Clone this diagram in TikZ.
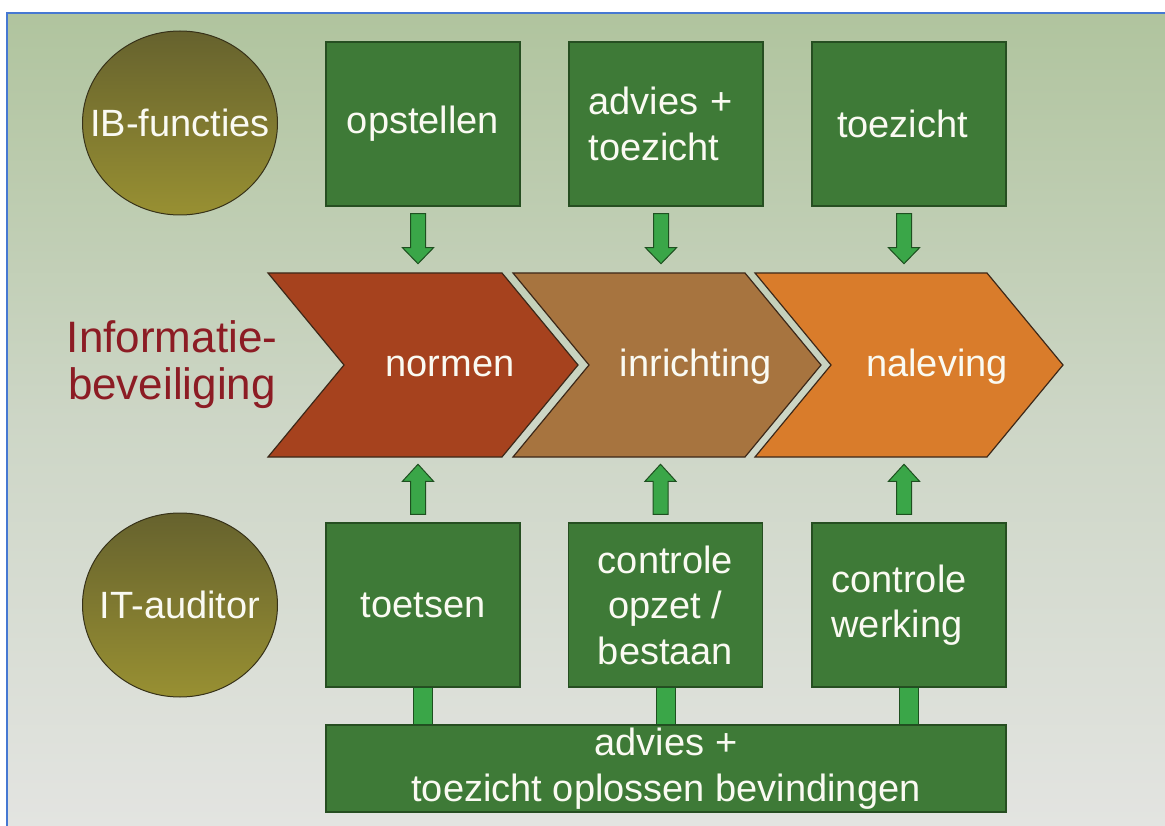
\documentclass[tikz,border=0pt]{standalone}
\usepackage{fontspec}
\setmainfont{Liberation Sans}
\usetikzlibrary{shapes.geometric,calc}
\definecolor{bgtop}{RGB}{176,196,158}
\definecolor{bgmid}{RGB}{205,214,198}
\definecolor{bgbot}{RGB}{227,228,225}
\definecolor{framecol}{RGB}{70,120,210}
\definecolor{boxgreen}{RGB}{62,122,55}
\definecolor{boxedge}{RGB}{38,78,33}
\definecolor{arrgreen}{RGB}{58,166,72}
\definecolor{arredge}{RGB}{30,80,32}
\definecolor{txtwhite}{RGB}{250,250,242}
\definecolor{disctop}{RGB}{102,98,46}
\definecolor{discbot}{RGB}{152,144,50}
\definecolor{discedge}{RGB}{55,50,25}
\definecolor{cnorm}{RGB}{166,66,30}
\definecolor{cinr}{RGB}{167,116,63}
\definecolor{cnal}{RGB}{217,124,43}
\definecolor{chevedge}{RGB}{60,40,25}
\definecolor{redtxt}{RGB}{140,28,36}
\newcommand\mybigfont{\fontsize{38}{45.5}\selectfont}
\newcommand\myredfont{\fontsize{44}{47}\selectfont}
\begin{document}
\begin{tikzpicture}[x=1pt,y=-1pt]
\tikzset{
  box/.style={rectangle, fill=boxgreen, draw=boxedge, line width=1.5pt,
    minimum width=194pt, minimum height=164pt, inner sep=0pt,
    text=txtwhite, font=\mybigfont, align=center},
  leftbox/.style={box, align=left, text width=155pt, inner xsep=19.5pt},
  barbox/.style={box, minimum width=680pt, minimum height=87pt},
  disc/.style={ellipse, minimum width=195pt, minimum height=184pt, inner sep=0pt,
    draw=discedge, line width=1pt, top color=disctop, bottom color=discbot},
  disclabel/.style={text=txtwhite, font=\mybigfont, inner sep=0pt},
  chev/.style={draw=chevedge, line width=1.2pt, line join=miter},
  chevtext/.style={text=txtwhite, font=\mybigfont, inner sep=0pt},
  arr/.style={fill=arrgreen, draw=arredge, line width=1pt, line join=miter},
  conn/.style={fill=arrgreen, draw=arredge, line width=0.8pt},
  frameline/.style={draw=framecol, line width=2pt},
  downarr/.pic={\draw[arr] (-7.5,0) -- (7.5,0) -- (7.5,34) -- (15.5,34) -- (0,50) -- (-15.5,34) -- (-7.5,34) -- cycle;},
  uparr/.pic={\draw[arr] (-7.5,0) -- (7.5,0) -- (7.5,-33) -- (15.5,-33) -- (0,-50) -- (-15.5,-33) -- (-7.5,-33) -- cycle;}
}
\useasboundingbox (0,0) rectangle (1165,826);
% background
\fill[white] (0,0) rectangle (1165,826);
\fill[top color=bgtop, bottom color=bgbot, middle color=bgmid] (7,13) rectangle (1165,826);
\draw[frameline] (1165,13) -- (7,13) -- (7,826);

% circles
\node[disc, label={[disclabel]center:IB-functies}] (ib) at (180,123) {};
\node[disc, label={[disclabel]center:IT-auditor}] (it) at (180,605) {};

% left label
\node[text=redtxt, font=\myredfont, align=center, inner sep=0pt] (infob) at (172,365) {Informatie-\\beveiliging};

% top boxes
\node[box] (t1) at (423,124) {opstellen};
\node[leftbox] (t2) at (666,124) {advies +\\toezicht};
\node[leftbox, text width=144pt, inner xsep=25pt] (t3) at (909,124) {toezicht};

% chevrons
\draw[chev, fill=cnorm] (268,273) -- (502,273) -- (578,365) -- (502,457) -- (268,457) -- (344,365) -- cycle;
\draw[chev, fill=cinr] (513,273) -- (745,273) -- (821,365) -- (745,457) -- (513,457) -- (589,365) -- cycle;
\draw[chev, fill=cnal] (755,273) -- (987,273) -- (1063,365) -- (987,457) -- (755,457) -- (831,365) -- cycle;
\node[chevtext, anchor=base] (normen) at (450,377) {normen};
\node[chevtext, anchor=base] (inrichting) at (696,377) {inrichting};
\node[chevtext, anchor=base] (naleving) at (937,377) {naleving};

% bottom boxes
\node[box] (b1) at (423,605) {toetsen};
\node[box] (b2) at (665.5,605) {controle\\opzet /\\bestaan};
\node[leftbox] (b3) at (909,605) {controle\\werking};
\node[barbox] (bar) at (666,768.5) {advies +\\toezicht oplossen bevindingen};

% arrows down
\pic at ($(t1.south)+(-5,7)$) {downarr};
\pic at ($(t2.south)+(-5,7)$) {downarr};
\pic at ($(t3.south)+(-5,7)$) {downarr};
% arrows up
\pic at ($(b1.north)+(-5,-8)$) {uparr};
\pic at ($(b2.north)+(-5,-8)$) {uparr};
\pic at ($(b3.north)+(-5,-8)$) {uparr};

% connectors to bottom bar
\draw[conn] ($(b1.south)+(-9.5,0)$) rectangle ($(b1.south |- bar.north)+(9.5,0)$);
\draw[conn] ($(b2.south)+(-9.5,0)$) rectangle ($(b2.south |- bar.north)+(9.5,0)$);
\draw[conn] ($(b3.south)+(-9.5,0)$) rectangle ($(b3.south |- bar.north)+(9.5,0)$);
\end{tikzpicture}
\end{document}
